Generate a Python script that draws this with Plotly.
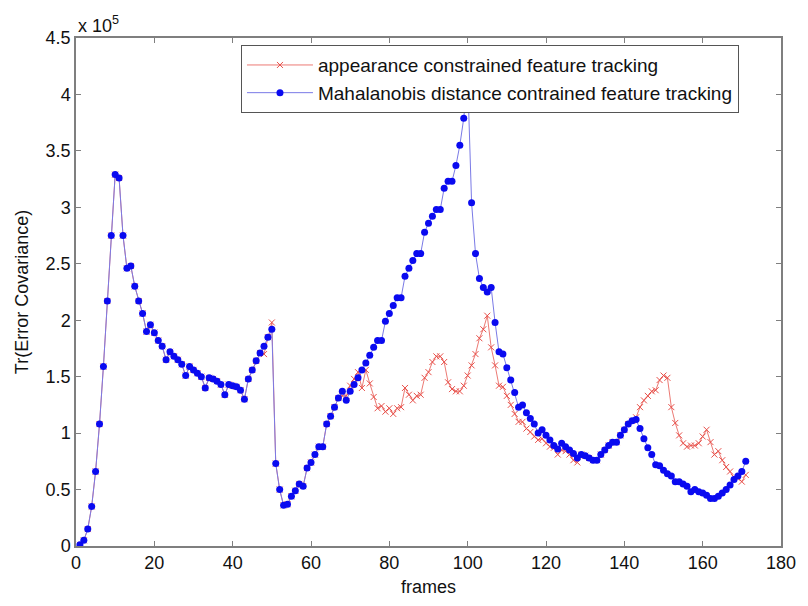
import plotly.graph_objects as go

# values in units of 1e5 (axis shows "x 10^5")
frames = list(range(1, 172))

mahalanobis = [
    0.01, 0.05, 0.15, 0.35, 0.66, 1.08, 1.59, 2.17, 2.75, 3.29,
    3.26, 2.75, 2.46, 2.48, 2.30, 2.17, 2.06, 1.90, 1.96, 1.89,
    1.82, 1.77, 1.65, 1.72, 1.68, 1.65, 1.61, 1.51, 1.59, 1.56,
    1.53, 1.50, 1.40, 1.49, 1.48, 1.46, 1.43, 1.34, 1.43, 1.42,
    1.41, 1.38, 1.30, 1.48, 1.56, 1.64, 1.71, 1.77, 1.85, 1.92,
    0.73, 0.50, 0.36, 0.37, 0.44, 0.49, 0.55, 0.53, 0.69, 0.74,
    0.81, 0.88, 0.88, 1.08, 1.15, 1.23, 1.31, 1.37, 1.29, 1.37,
    1.43, 1.49, 1.56, 1.62, 1.69, 1.76, 1.82, 1.82, 1.99, 2.06,
    2.13, 2.20, 2.20, 2.39, 2.46, 2.53, 2.59, 2.59, 2.78, 2.86,
    2.92, 2.98, 2.98, 3.17, 3.23, 3.23, 3.37, 3.55, 3.79, 4.15,
    3.04, 2.59, 2.37, 2.29, 2.25, 2.29, 1.98, 1.72, 1.70, 1.58,
    1.47, 1.36, 1.23, 1.25, 1.18, 1.13, 1.08, 1.00, 1.03, 0.98,
    0.94, 0.89, 0.86, 0.91, 0.88, 0.85, 0.82, 0.78, 0.81, 0.80,
    0.78, 0.76, 0.76, 0.81, 0.85, 0.89, 0.92, 0.92, 0.98, 1.03,
    1.08, 1.11, 1.12, 1.04, 0.95, 0.87, 0.81, 0.72, 0.71, 0.67,
    0.64, 0.62, 0.57, 0.57, 0.55, 0.53, 0.48, 0.50, 0.48, 0.47,
    0.45, 0.42, 0.42, 0.44, 0.47, 0.50, 0.54, 0.59, 0.62, 0.66,
    0.75,
]

appearance = [
    0.01, 0.05, 0.15, 0.35, 0.66, 1.08, 1.59, 2.17, 2.75, 3.29,
    3.26, 2.75, 2.46, 2.48, 2.30, 2.17, 2.06, 1.90, 1.96, 1.89,
    1.82, 1.77, 1.65, 1.72, 1.68, 1.65, 1.61, 1.51, 1.59, 1.56,
    1.53, 1.50, 1.40, 1.49, 1.48, 1.46, 1.43, 1.34, 1.43, 1.42,
    1.41, 1.38, 1.30, 1.48, 1.56, 1.64, 1.71, 1.70, 1.85, 1.98,
    0.73, 0.50, 0.36, 0.37, 0.44, 0.49, 0.55, 0.53, 0.69, 0.74,
    0.81, 0.88, 0.88, 1.08, 1.15, 1.23, 1.31, 1.33, 1.33, 1.42,
    1.48, 1.54, 1.40, 1.56, 1.44, 1.32, 1.22, 1.24, 1.19, 1.22,
    1.17, 1.22, 1.23, 1.40, 1.34, 1.29, 1.33, 1.34, 1.49, 1.54,
    1.63, 1.68, 1.68, 1.63, 1.45, 1.39, 1.37, 1.37, 1.42, 1.51,
    1.60, 1.70, 1.84, 1.92, 2.04, 1.76, 1.60, 1.42, 1.41, 1.33,
    1.25, 1.17, 1.10, 1.10, 1.04, 1.01, 0.97, 0.94, 0.95, 0.91,
    0.88, 0.87, 0.81, 0.85, 0.84, 0.81, 0.76, 0.74, 0.81, 0.80,
    0.78, 0.76, 0.76, 0.81, 0.85, 0.89, 0.92, 0.92, 0.98, 1.03,
    1.08, 1.11, 1.14, 1.23, 1.29, 1.33, 1.37, 1.38, 1.47, 1.51,
    1.49, 1.23, 1.09, 0.98, 0.91, 0.88, 0.89, 0.89, 0.91, 0.97,
    1.03, 0.92, 0.81, 0.84, 0.76, 0.70, 0.66, 0.61, 0.60, 0.57,
    0.63,
]

x_ticks = [0, 20, 40, 60, 80, 100, 120, 140, 160, 180]
y_ticks = [0, 0.5, 1, 1.5, 2, 2.5, 3, 3.5, 4, 4.5]
y_tick_text = ["0", "0.5", "1", "1.5", "2", "2.5", "3", "3.5", "4", "4.5"]

FONT = "Liberation Sans, Arial"

fig = go.Figure()
fig.add_trace(go.Scatter(
    x=frames, y=appearance, mode="lines+markers",
    name="appearance constrained feature tracking",
    line=dict(color="#ec7a74", width=1),
    marker=dict(symbol="x-thin", size=6, color="#e8504a",
                line=dict(color="#e8504a", width=1)),
))
fig.add_trace(go.Scatter(
    x=frames, y=mahalanobis, mode="lines+markers",
    name="Mahalanobis distance contrained feature tracking",
    line=dict(color="#7a7ae6", width=1),
    marker=dict(symbol="circle", size=7, color="#0a0af0"),
))

axis_common = dict(
    showgrid=False, zeroline=False, showline=True, linecolor="#7f7f7f",
    linewidth=1.5, mirror="ticks", ticks="inside", ticklen=5,
    tickcolor="#7f7f7f", tickwidth=1,
    tickfont=dict(family=FONT, size=18, color="#111111"),
)

fig.update_xaxes(range=[0, 180], tickvals=x_ticks, **axis_common,
                 title=dict(text="frames", standoff=8,
                            font=dict(family=FONT, size=18, color="#111111")))
fig.update_yaxes(range=[0, 4.5], tickvals=y_ticks, ticktext=y_tick_text, **axis_common,
                 title=dict(text="Tr(Error Covariance)", standoff=12,
                            font=dict(family=FONT, size=18, color="#111111")))

fig.add_annotation(xref="paper", yref="paper", x=0.0, y=1.0, xanchor="left", yanchor="bottom",
                   xshift=0, yshift=0, showarrow=False,
                   text="x 10<sup>5</sup>",
                   font=dict(family=FONT, size=18, color="#111111"))

fig.update_layout(
    width=808, height=606,
    margin=dict(l=76, r=17, t=38, b=58),
    paper_bgcolor="white", plot_bgcolor="white",
    legend=dict(x=0.234, y=0.986, xanchor="left", yanchor="top",
                bgcolor="white", bordercolor="#555555", borderwidth=1,
                font=dict(family=FONT, size=19, color="#111111"),
                tracegroupgap=0, itemwidth=66),
    showlegend=True,
)

fig.write_html("out.html")
